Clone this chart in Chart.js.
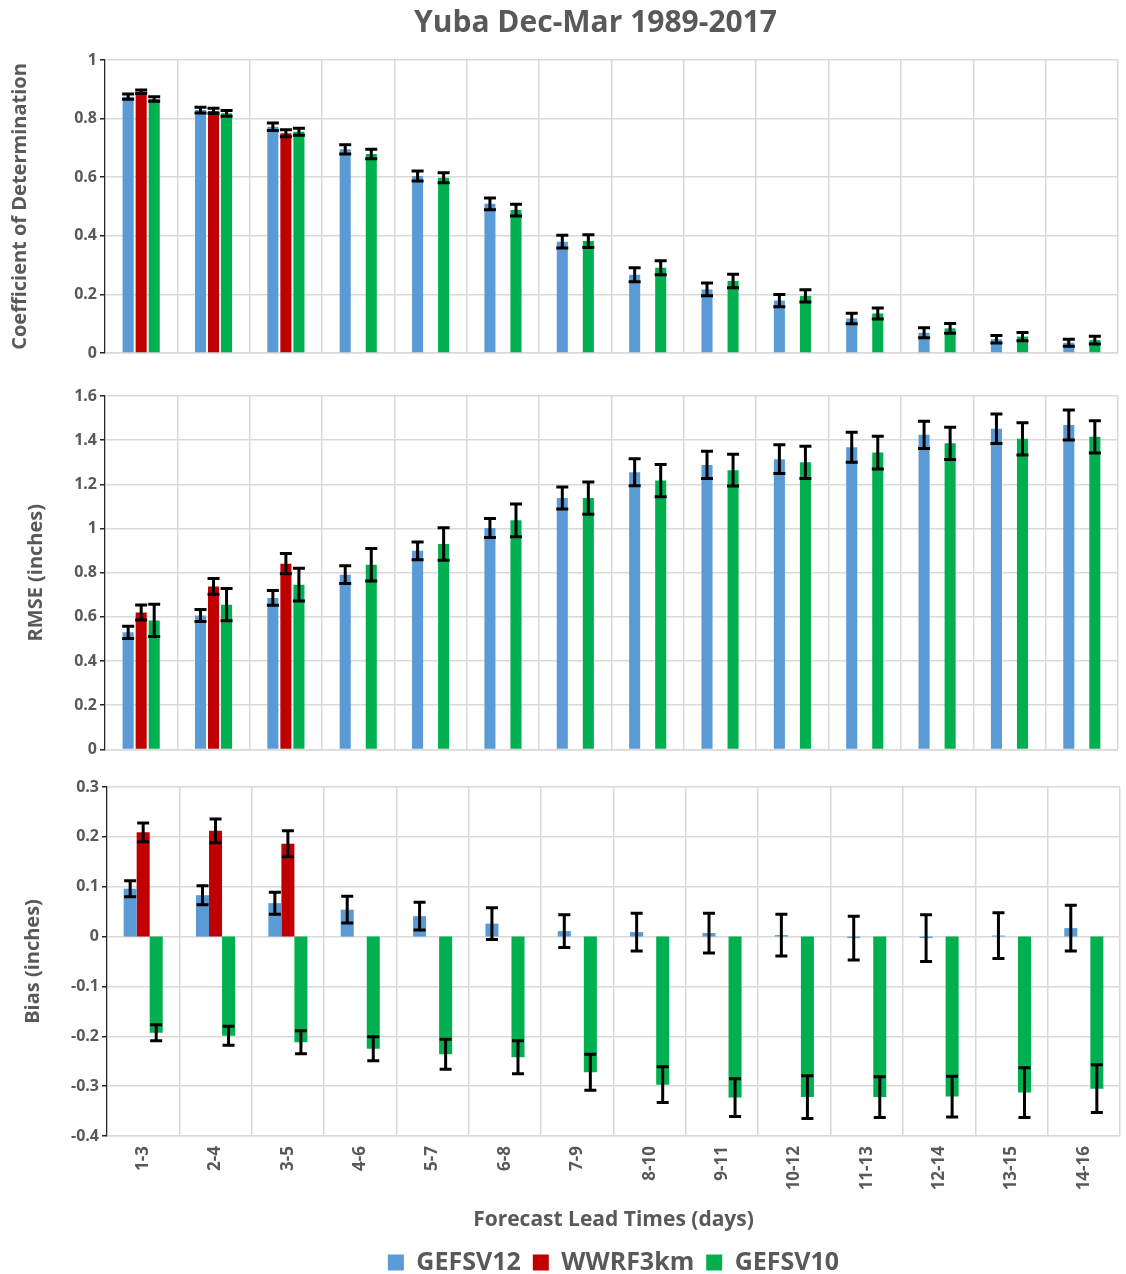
<!DOCTYPE html>
<html>
<head>
<meta charset="utf-8">
<title>Yuba Dec-Mar 1989-2017</title>
<script src="https://cdn.jsdelivr.net/npm/chart.js@4.4.1/dist/chart.umd.min.js"></script>
<style>
    body { margin: 0; background: #fff; }
    #wrap { position: relative; width: 1126px; height: 1274px; }
    #wrap canvas { position: absolute; left: 0; }
</style>
</head>
<body>
<div id="wrap">
    <canvas id="r2-chart" width="1126" height="372" style="top:0"></canvas>
    <canvas id="rmse-chart" width="1126" height="390" style="top:372px"></canvas>
    <canvas id="bias-chart" width="1126" height="512" style="top:762px"></canvas>
</div>
<script>
// Forecast lead time windows (days)
const leadTimes = ['1-3', '2-4', '3-5', '4-6', '5-7', '6-8', '7-9', '8-10', '9-11', '10-12', '11-13', '12-14', '13-15', '14-16'];

// Coefficient of determination
const r2Gefs12 = [0.875, 0.829, 0.772, 0.695, 0.604, 0.509, 0.380, 0.267, 0.217, 0.179, 0.118, 0.069, 0.047, 0.035];
const r2Gefs12Err = [0.009, 0.010, 0.013, 0.016, 0.017, 0.020, 0.022, 0.024, 0.022, 0.021, 0.018, 0.017, 0.013, 0.012];
const r2Wrf = [0.892, 0.826, 0.750, null, null, null, null, null, null, null, null, null, null, null];
const r2WrfErr = [0.006, 0.009, 0.012];
const r2Gefs10 = [0.867, 0.818, 0.755, 0.679, 0.598, 0.488, 0.382, 0.291, 0.246, 0.195, 0.135, 0.084, 0.056, 0.044];
const r2Gefs10Err = [0.008, 0.010, 0.012, 0.016, 0.017, 0.020, 0.022, 0.024, 0.023, 0.021, 0.019, 0.017, 0.014, 0.013];

// RMSE (inches)
const rmseGefs12 = [0.530, 0.606, 0.686, 0.791, 0.899, 1.002, 1.138, 1.255, 1.288, 1.314, 1.368, 1.424, 1.452, 1.469];
const rmseGefs12Err = [0.028, 0.027, 0.033, 0.040, 0.040, 0.043, 0.050, 0.061, 0.062, 0.065, 0.068, 0.062, 0.067, 0.068];
const rmseWrf = [0.620, 0.738, 0.841, null, null, null, null, null, null, null, null, null, null, null];
const rmseWrfErr = [0.034, 0.036, 0.046];
const rmseGefs10 = [0.584, 0.655, 0.746, 0.836, 0.930, 1.037, 1.138, 1.217, 1.264, 1.300, 1.344, 1.386, 1.406, 1.415];
const rmseGefs10Err = [0.073, 0.073, 0.074, 0.074, 0.074, 0.074, 0.073, 0.073, 0.072, 0.073, 0.074, 0.073, 0.073, 0.073];

// Bias (inches)
const biasGefs12 = [0.096, 0.083, 0.067, 0.054, 0.041, 0.026, 0.011, 0.009, 0.007, 0.003, -0.003, -0.003, 0.002, 0.017];
const biasGefs12Err = [0.016, 0.019, 0.022, 0.027, 0.028, 0.032, 0.033, 0.038, 0.040, 0.042, 0.044, 0.047, 0.046, 0.046];
const biasWrf = [0.209, 0.212, 0.186, null, null, null, null, null, null, null, null, null, null, null];
const biasWrfErr = [0.019, 0.024, 0.026];
const biasGefs10 = [-0.193, -0.199, -0.212, -0.225, -0.236, -0.242, -0.272, -0.297, -0.323, -0.322, -0.322, -0.321, -0.313, -0.305];
const biasGefs10Err = [0.016, 0.019, 0.023, 0.024, 0.030, 0.033, 0.036, 0.036, 0.038, 0.043, 0.041, 0.041, 0.050, 0.048];

const BLUE = '#5b9bd5';
const RED = '#c00000';
const GREEN = '#00b050';
const TEXT = '#595959';
const GRID = '#d9d9d9';
const FONT = "'Open Sans', 'DejaVu Sans', sans-serif";

// Draws the black +/- error bars on top of each bar
const errorBarPlugin = {
    id: 'errorBars',
    afterDatasetsDraw(chart) {
        const ctx = chart.ctx;
        const yScale = chart.scales.y;
        chart.data.datasets.forEach(function(ds, di) {
            if (!ds.errors) return;
            const meta = chart.getDatasetMeta(di);
            meta.data.forEach(function(bar, i) {
                const v = ds.data[i];
                const e = ds.errors[i];
                if (v == null || e == null) return;
                const top = yScale.getPixelForValue(v + e);
                const bot = yScale.getPixelForValue(v - e);
                ctx.save();
                ctx.strokeStyle = '#000';
                ctx.lineWidth = 3;
                ctx.beginPath();
                ctx.moveTo(bar.x, top);
                ctx.lineTo(bar.x, bot);
                ctx.moveTo(bar.x - 6, top);
                ctx.lineTo(bar.x + 6, top);
                ctx.moveTo(bar.x - 6, bot);
                ctx.lineTo(bar.x + 6, bot);
                ctx.stroke();
                ctx.restore();
            });
        });
    }
};

// Main heading, drawn a bit left of the plot centre like the original
const headingPlugin = {
    id: 'heading',
    afterDraw(chart, args, opts) {
        const ctx = chart.ctx;
        const area = chart.chartArea;
        ctx.save();
        ctx.fillStyle = TEXT;
        ctx.font = 'bold 30px ' + FONT;
        ctx.textAlign = 'center';
        ctx.textBaseline = 'middle';
        ctx.fillText(opts.text, (area.left + area.right) / 2 - 16, 23);
        ctx.restore();
    }
};

function makeDatasets(g12, g12Err, wrf, wrfErr, g10, g10Err, barPct) {
    return [
        { label: 'GEFSV12', data: g12, errors: g12Err, backgroundColor: BLUE, categoryPercentage: 0.54, barPercentage: barPct },
        { label: 'WWRF3km', data: wrf, errors: wrfErr, backgroundColor: RED, categoryPercentage: 0.54, barPercentage: barPct },
        { label: 'GEFSV10', data: g10, errors: g10Err, backgroundColor: GREEN, categoryPercentage: 0.54, barPercentage: barPct }
    ];
}

function yScaleOptions(min, max, step, title, width) {
    return {
        min: min,
        max: max,
        afterFit: function(scale) { scale.width = width; },
        ticks: {
            stepSize: step,
            color: TEXT,
            padding: 3,
            font: { family: FONT, size: 16, weight: 'bold' },
            callback: function(v) { return String(Number(v.toFixed(1))); }
        },
        grid: { color: GRID, lineWidth: 1.5, tickColor: '#262626', tickLength: 5 },
        border: { color: '#262626', width: 1.2 },
        title: {
            display: true,
            text: title,
            color: TEXT,
            font: { family: FONT, size: 20, weight: 'bold' },
            padding: { top: 4, bottom: 4 }
        }
    };
}

function xScaleHidden(height) {
    return {
        afterFit: function(scale) { scale.height = height; },
        ticks: { display: false },
        grid: { color: GRID, lineWidth: 1.5, drawTicks: false, offset: true },
        border: { color: GRID, width: 1.5 }
    };
}

// Coefficient of determination panel
new Chart(document.getElementById('r2-chart'), {
    type: 'bar',
    data: { labels: leadTimes, datasets: makeDatasets(r2Gefs12, r2Gefs12Err, r2Wrf, r2WrfErr, r2Gefs10, r2Gefs10Err, 0.85) },
    options: {
        responsive: false,
        animation: false,
        layout: { padding: { left: 4, right: 8, top: 60, bottom: 0 } },
        plugins: {
            legend: { display: false },
            tooltip: { enabled: false },
            heading: { text: 'Yuba Dec-Mar 1989-2017' }
        },
        scales: {
            x: xScaleHidden(19),
            y: yScaleOptions(0, 1, 0.2, 'Coefficient of Determination', 101)
        }
    },
    plugins: [errorBarPlugin, headingPlugin]
});

// RMSE panel
new Chart(document.getElementById('rmse-chart'), {
    type: 'bar',
    data: { labels: leadTimes, datasets: makeDatasets(rmseGefs12, rmseGefs12Err, rmseWrf, rmseWrfErr, rmseGefs10, rmseGefs10Err, 0.85) },
    options: {
        responsive: false,
        animation: false,
        layout: { padding: { left: 20, right: 8, top: 24, bottom: 0 } },
        plugins: { legend: { display: false }, tooltip: { enabled: false } },
        scales: {
            x: xScaleHidden(12),
            y: yScaleOptions(0, 1.6, 0.2, 'RMSE (inches)', 85)
        }
    },
    plugins: [errorBarPlugin]
});

// Bias panel, carries the category axis and the legend
new Chart(document.getElementById('bias-chart'), {
    type: 'bar',
    data: { labels: leadTimes, datasets: makeDatasets(biasGefs12, biasGefs12Err, biasWrf, biasWrfErr, biasGefs10, biasGefs10Err, 1.0) },
    options: {
        responsive: false,
        animation: false,
        layout: { padding: { left: 17, right: 6, top: 25, bottom: -11 } },
        plugins: {
            tooltip: { enabled: false },
            legend: {
                position: 'bottom',
                fullSize: false,
                labels: {
                    color: TEXT,
                    boxWidth: 16,
                    boxHeight: 16,
                    padding: 12,
                    font: { family: FONT, size: 25, weight: 'bold' }
                }
            }
        },
        scales: {
            x: {
                afterFit: function(scale) { scale.height = 102; },
                ticks: {
                    color: TEXT,
                    minRotation: 90,
                    maxRotation: 90,
                    padding: 10,
                    font: { family: FONT, size: 17, weight: 'bold' }
                },
                grid: { color: GRID, lineWidth: 1.5, drawTicks: false, offset: true },
                border: { color: GRID, width: 1.5 },
                title: {
                    display: true,
                    text: 'Forecast Lead Times (days)',
                    color: TEXT,
                    font: { family: FONT, size: 21, weight: 'bold' },
                    padding: { top: 4, bottom: 5 }
                }
            },
            y: yScaleOptions(-0.4, 0.3, 0.1, 'Bias (inches)', 90)
        }
    },
    plugins: [errorBarPlugin]
});
</script>
</body>
</html>
